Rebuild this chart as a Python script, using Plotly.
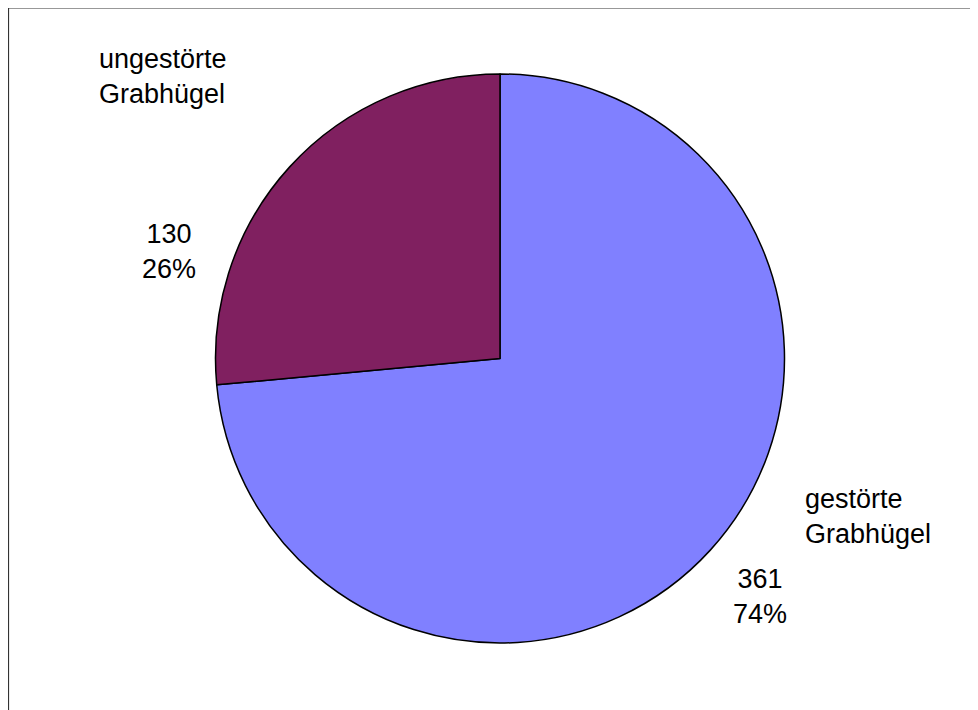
import plotly.graph_objects as go

categories = ["gestörte<br>Grabhügel", "ungestörte<br>Grabhügel"]
values = [361, 130]
colors = ["#8080FF", "#802060"]

W, H = 978, 710
OFF = 8  # page body margin offset
total = sum(values)
pcts = [round(v / total * 100) for v in values]


def px(x):
    return (x - OFF) / W


def py(y):
    return 1 - (y - OFF) / H


fig = go.Figure(go.Pie(
    labels=categories,
    values=values,
    sort=False,
    direction="clockwise",
    rotation=0,
    textinfo="none",
    hoverinfo="label+value+percent",
    marker=dict(colors=colors, line=dict(color="black", width=1.5)),
    domain=dict(x=[px(215), px(785)], y=[py(643), py(74)]),
    showlegend=False,
))

font = dict(family="Liberation Sans, Arial, sans-serif", size=27, color="black")

# category name labels and value labels (positions in pixels)
name_pos = [(803, 516), (97, 77)]
val_pos = [(760, 596), (169, 251)]

ann = []
for i in range(len(values)):
    x, y = name_pos[i]
    ann.append(dict(x=px(x), y=py(y), xref="paper", yref="paper",
                    text=categories[i], showarrow=False, align="left",
                    xanchor="left", yanchor="middle", font=font))
    vx, vy = val_pos[i]
    ann.append(dict(x=px(vx), y=py(vy), xref="paper", yref="paper",
                    text=f"{values[i]}<br>{pcts[i]}%", showarrow=False,
                    align="center", xanchor="center", yanchor="middle", font=font))

fig.update_layout(
    width=W, height=H,
    margin=dict(l=0, r=0, t=0, b=0),
    paper_bgcolor="white",
    plot_bgcolor="white",
    annotations=ann,
    shapes=[dict(type="rect", xref="paper", yref="paper",
                 x0=px(8.5), x1=1.05, y0=-0.05, y1=py(8),
                 line=dict(color="#333333", width=1.2))],
)

fig.write_html("out.html")
